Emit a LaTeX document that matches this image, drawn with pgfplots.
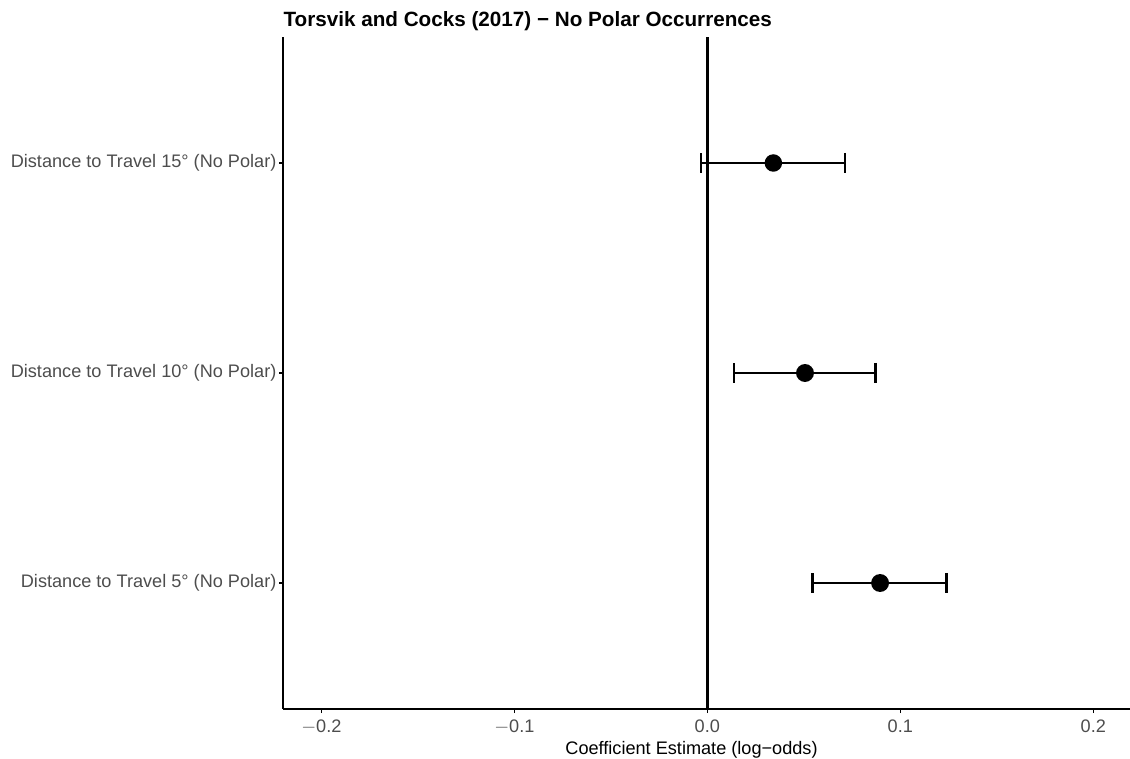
\documentclass[border=0pt]{standalone}
\usepackage{pgfplots}
\pgfplotsset{compat=1.18}
\usepackage{fontspec}
\setmainfont{Liberation Sans}
\definecolor{ticktext}{HTML}{4D4D4D}
\begin{document}
\begin{tikzpicture}
% page frame (1px = 0.75pt)
\useasboundingbox (-212.5pt,-37.5pt) rectangle (635pt,531.75pt);
\begin{axis}[
  at={(0,0)}, anchor=south west,
  scale only axis,
  width=635pt, height=504pt,
  xmin=-0.2197, xmax=0.2190,
  ymin=0.4, ymax=3.6,
  axis x line*=bottom, axis y line*=left,
  axis line style={line width=1.4pt, black},
  every tick/.style={black, line width=1.1pt},
  tick align=outside,
  major tick length=3pt,
  xtick={-0.2,-0.1,0,0.1,0.2},
  xticklabels={$-$0.2,$-$0.1,0.0,0.1,0.2},
  ytick={1,2,3},
  yticklabels={Distance to Travel 5° (No Polar),Distance to Travel 10° (No Polar),Distance to Travel 15° (No Polar)},
  tick label style={font=\fontsize{13.6pt}{16pt}\selectfont, text=ticktext},
  xticklabel style={inner sep=1pt, yshift=-4.2pt},
  yticklabel style={inner sep=1pt, xshift=-1pt},
  xlabel={Coefficient Estimate (log\textminus odds)},
  xlabel style={font=\fontsize{13.6pt}{16pt}\selectfont, at={(rel axis cs:0.4821,0)}, anchor=base, yshift=-33.75pt},
  clip=false,
]
% reference line at zero
\addplot[black, line width=2.2pt] coordinates {(0,0.4) (0,3.6)};

% estimates with confidence intervals
\addplot[black, line width=2.2pt, mark=*, mark size=5.6pt, only marks,
  error bars/.cd, x dir=both, x explicit,
  error bar style={line width=2.2pt},
  error mark options={rotate=90, mark size=7.5pt, line width=2.2pt}]
  coordinates {
    (0.0506,2) -= (0.0368,0) += (0.0363,0)
    (0.0895,1) -= (0.0349,0) += (0.0345,0)
  };
\addplot[black, line width=1.5pt, mark=*, mark size=5.8pt, only marks,
  error bars/.cd, x dir=both, x explicit,
  error bar style={line width=1.5pt},
  error mark options={rotate=90, mark size=7.5pt, line width=1.5pt}]
  coordinates {
    (0.0342,3) -= (0.0375,0) += (0.0371,0)
  };

% plot title
\node[anchor=base west, inner sep=0pt, yshift=7.7pt,
  font=\fontsize{15.5pt}{18pt}\selectfont\bfseries]
  at (rel axis cs:0,1) {Torsvik and Cocks (2017) \textminus{} No Polar Occurrences};
\end{axis}
\end{tikzpicture}
\end{document}
